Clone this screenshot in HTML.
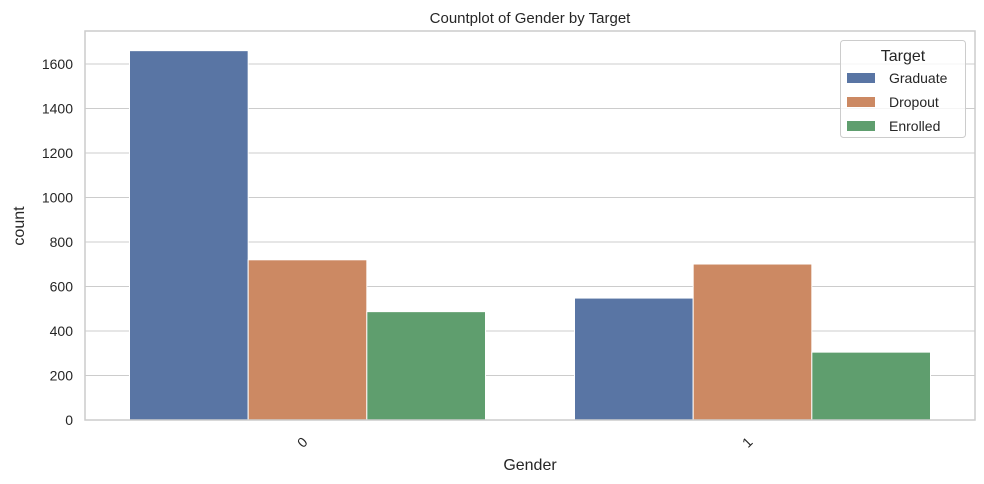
<!DOCTYPE html>
<html><head><meta charset="utf-8"><style>
body{margin:0;background:#fff}
svg{display:block;font-family:"Liberation Sans","DejaVu Sans",sans-serif}
</style></head><body>
<svg id="chart" width="984" height="484">
<text x="530" y="23" font-size="15" text-anchor="middle" fill="#262626">Countplot of Gender by Target</text>
<g id="grid"></g><g id="bars"></g><g id="axes"></g>
<text x="530" y="470" font-size="16" text-anchor="middle" fill="#262626">Gender</text>
<text transform="translate(24,226) rotate(-90)" font-size="16" text-anchor="middle" fill="#262626">count</text>
<g>
<rect x="840.5" y="40.5" width="125" height="97" rx="3" fill="#fff" fill-opacity="0.8" stroke="#ccc"/>
<text x="903" y="61" font-size="16" text-anchor="middle" fill="#262626">Target</text>
<g id="legend-items"></g>
</g>
</svg>
<script>
const categories=["0","1"];
const hues=["Graduate","Dropout","Enrolled"];
const graduate=[1660,548];
const dropout=[720,701];
const enrolled=[487,305];
const yTicks=[0,200,400,600,800,1000,1200,1400,1600];
const colors=["#5975a4","#cc8963","#5f9e6e"];
const series=[graduate,dropout,enrolled];
const L=85,R=975,T=31,B=420;
const ns="http://www.w3.org/2000/svg";
function y(v){return B-v*0.2225;}
const bw=(R-L)/categories.length;
function mk(tag,attrs,parent){const e=document.createElementNS(ns,tag);for(const k in attrs)e.setAttribute(k,attrs[k]);parent.appendChild(e);return e;}
const grid=document.getElementById('grid'),bars=document.getElementById('bars'),axes=document.getElementById('axes');
yTicks.forEach(t=>{
 const l=mk('line',{x1:L,x2:R,y1:y(t),y2:y(t),stroke:'#ccc','stroke-width':1},grid);
 
 
 const tx=mk('text',{x:L-12,y:y(t)+5,'font-size':14,'text-anchor':'end',fill:'#262626'},axes);
 tx.textContent=t;
 
 
});
const groupW=bw*0.8,barW=groupW/hues.length;
categories.forEach((c,i)=>{
 const cx=L+bw*(i+0.5);
 series.forEach((s,j)=>{
  const x=cx-groupW/2+j*barW;
  const r=mk('rect',{x:x,y:y(s[i]),width:barW,height:B-y(s[i]),fill:colors[j],stroke:'#fff','stroke-width':1},bars);
  
  
 });
 const tx=mk('text',{transform:`translate(${cx+1},${443}) rotate(-45)`,'font-size':14,'text-anchor':'end',fill:'#262626'},axes);
 tx.textContent=c;
 
 
});
const fr=mk('rect',{x:L,y:T,width:R-L,height:B-T,fill:'none',stroke:'#ccc','stroke-width':1.5},axes);


const li=document.getElementById('legend-items');
hues.forEach((h,j)=>{
 const yy=78+j*24;
 const r=mk('rect',{x:847,y:yy-5,width:28,height:10,fill:colors[j]},li);
 
 
 const t=mk('text',{x:889,y:yy+5,'font-size':14,fill:'#262626'},li);
 t.textContent=h;
 
 
});
</script>
</body></html>
